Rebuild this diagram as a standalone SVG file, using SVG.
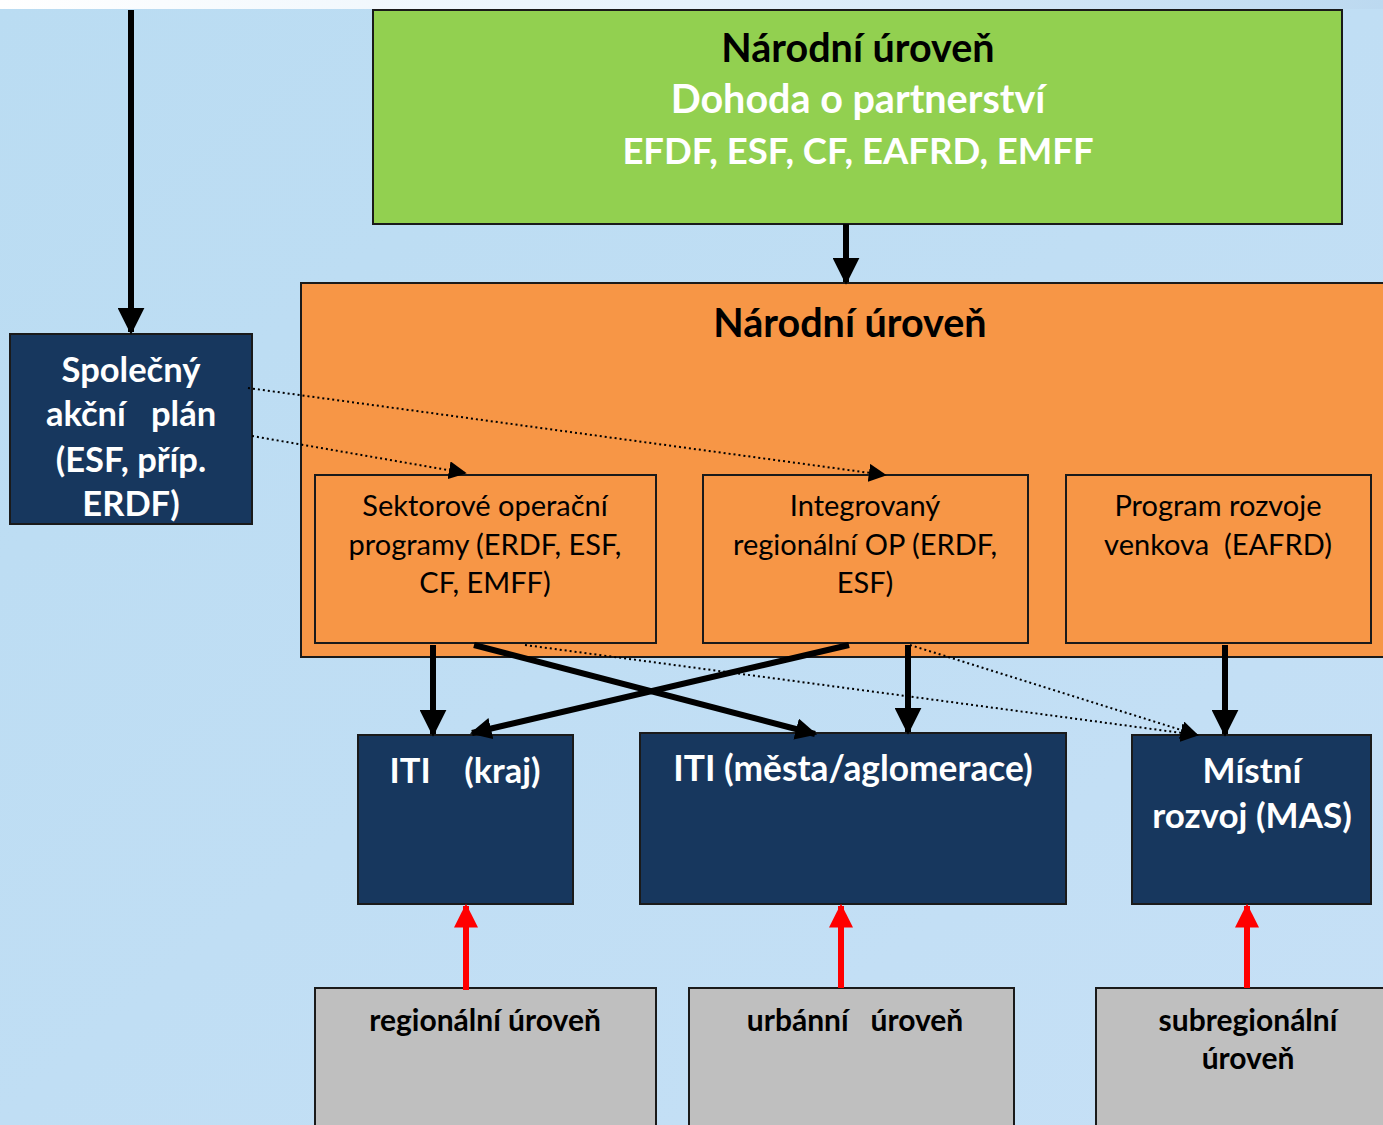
<svg xmlns="http://www.w3.org/2000/svg" width="1383" height="1125" viewBox="0 0 1383 1125">
<defs>
<linearGradient id="bg" x1="0" y1="0" x2="1" y2="1">
<stop offset="0" stop-color="#badcf2"/>
<stop offset="1" stop-color="#c6e0f6"/>
</linearGradient>
<linearGradient id="top" x1="0" y1="0" x2="1" y2="0">
<stop offset="0" stop-color="#ffffff"/>
<stop offset="0.5" stop-color="#e6f2fb"/>
<stop offset="1" stop-color="#bcd9f0"/>
</linearGradient>
<marker id="ah" viewBox="0 0 10 10" refX="9" refY="5" markerWidth="4.5" markerHeight="4.5" orient="auto" markerUnits="strokeWidth">
<path d="M0,0 L10,5 L0,10 z" fill="#000"/>
</marker>
<marker id="ahx" viewBox="0 0 10 10" refX="9" refY="5" markerWidth="3.6" markerHeight="3.6" orient="auto" markerUnits="strokeWidth">
<path d="M0,0 L10,5 L0,10 z" fill="#000"/>
</marker>
<marker id="ahd" viewBox="0 0 10 10" refX="9" refY="5" markerWidth="18" markerHeight="18" orient="auto" markerUnits="userSpaceOnUse">
<path d="M0,0 L10,5 L0,10 z" fill="#000"/>
</marker>
<marker id="ahr" viewBox="0 0 10 10" refX="9" refY="5" markerWidth="4" markerHeight="4" orient="auto" markerUnits="strokeWidth">
<path d="M0,0 L10,5 L0,10 z" fill="#ff0000"/>
</marker>
</defs>
<style>
.t{font-family:Lato,"Open Sans","Noto Sans",sans-serif;text-anchor:middle}
.b{font-weight:bold}
.w{fill:#ffffff}
.k{fill:#000000}
.h{font-size:39.5px}
.s{font-size:29px}
.n{font-size:34.5px}
.g{font-size:30px}
.box{stroke:#1a1a1a;stroke-width:2}
.green{fill:#92d050}
.orange{fill:#f79646}
.navy{fill:#17375e}
.grey{fill:#bfbfbf}
.thick{stroke:#000;stroke-width:6;fill:none}
.dot{stroke:#000;stroke-width:2;stroke-dasharray:2 3;fill:none}
.red{stroke:#ff0000;stroke-width:6;fill:none}
</style>
<rect x="0" y="0" width="1383" height="1125" fill="url(#bg)"/>
<rect x="0" y="0" width="1383" height="9" fill="url(#top)"/>

<g id="narodni-green">
<rect class="box green" x="373" y="10" width="969" height="214"/>
<text class="t b k h" x="858" y="62">Národní úroveň</text>
<text class="t b w h" x="858" y="113">Dohoda o partnerství</text>
<text class="t b w" x="858" y="164" font-size="36.5">EFDF, ESF, CF, EAFRD, EMFF</text>
</g>

<g id="narodni-orange">
<rect class="box orange" x="301" y="283" width="1090" height="374"/>
<text class="t b k h" x="850" y="337">Národní úroveň</text>
</g>

<g id="sektorove">
<rect class="box orange" x="315" y="475" width="341" height="168"/>
<text class="t k s" x="485" y="516">Sektorové operační</text>
<text class="t k s" x="485" y="555">programy (ERDF, ESF,</text>
<text class="t k s" x="485" y="593">CF, EMFF)</text>
</g>

<g id="irop">
<rect class="box orange" x="703" y="475" width="325" height="168"/>
<text class="t k s" x="865" y="516">Integrovaný</text>
<text class="t k s" x="865" y="555">regionální OP (ERDF,</text>
<text class="t k s" x="865" y="593">ESF)</text>
</g>

<g id="prv">
<rect class="box orange" x="1066" y="475" width="305" height="168"/>
<text class="t k s" x="1218" y="516">Program rozvoje</text>
<text class="t k s" x="1218" y="555" xml:space="preserve">venkova  (EAFRD)</text>
</g>

<g id="sap">
<rect class="box navy" x="10" y="334" width="242" height="190"/>
<text class="t b w n" x="131" y="382">Společný</text>
<text class="t b w n" x="131" y="426" xml:space="preserve">akční   plán</text>
<text class="t b w n" x="131" y="472">(ESF, příp.</text>
<text class="t b w n" x="131" y="516">ERDF)</text>
</g>

<g id="iti-kraj">
<rect class="box navy" x="358" y="735" width="215" height="169"/>
<text class="t b w n" x="465" y="783" xml:space="preserve">ITI    (kraj)</text>
</g>

<g id="iti-mesta">
<rect class="box navy" x="640" y="733" width="426" height="171"/>
<text class="t b w" x="853" y="781" font-size="35.3">ITI (města/aglomerace)</text>
</g>

<g id="mas">
<rect class="box navy" x="1132" y="735" width="239" height="169"/>
<text class="t b w" x="1252" y="783" font-size="35">Místní</text>
<text class="t b w" x="1252" y="828" font-size="35">rozvoj (MAS)</text>
</g>

<g id="regionalni">
<rect class="box grey" x="315" y="988" width="341" height="150"/>
<text class="t b k g" x="485" y="1031">regionální úroveň</text>
</g>

<g id="urbanni">
<rect class="box grey" x="689" y="988" width="325" height="150"/>
<text class="t b k g" x="855" y="1031" xml:space="preserve">urbánní   úroveň</text>
</g>

<g id="subregionalni">
<rect class="box grey" x="1096" y="988" width="300" height="150"/>
<text class="t b k g" x="1248" y="1031">subregionální</text>
<text class="t b k g" x="1248" y="1069">úroveň</text>
</g>

<g id="connectors">
<line class="thick" x1="131" y1="10" x2="131" y2="332" marker-end="url(#ah)"/>
<line class="thick" x1="846" y1="224" x2="846" y2="282" marker-end="url(#ah)"/>
<line class="dot" x1="248" y1="388" x2="885" y2="475" marker-end="url(#ahd)"/>
<line class="dot" x1="252" y1="436" x2="465" y2="473" marker-end="url(#ahd)"/>
<line class="thick" x1="433" y1="645" x2="433" y2="734" marker-end="url(#ah)"/>
<line class="thick" x1="908" y1="645" x2="908" y2="732" marker-end="url(#ah)"/>
<line class="thick" x1="1225" y1="645" x2="1225" y2="734" marker-end="url(#ah)"/>
<line class="thick" x1="474" y1="645" x2="815" y2="734" marker-end="url(#ahx)"/>
<line class="thick" x1="849" y1="645" x2="472" y2="733" marker-end="url(#ahx)"/>
<line class="dot" x1="525" y1="645" x2="1197" y2="735" marker-end="url(#ahd)"/>
<line class="dot" x1="910" y1="645" x2="1197" y2="735" marker-end="url(#ahd)"/>
<line class="red" x1="466" y1="990" x2="466" y2="906" marker-end="url(#ahr)"/>
<line class="red" x1="841" y1="988" x2="841" y2="906" marker-end="url(#ahr)"/>
<line class="red" x1="1247" y1="988" x2="1247" y2="906" marker-end="url(#ahr)"/>
</g>
</svg>
